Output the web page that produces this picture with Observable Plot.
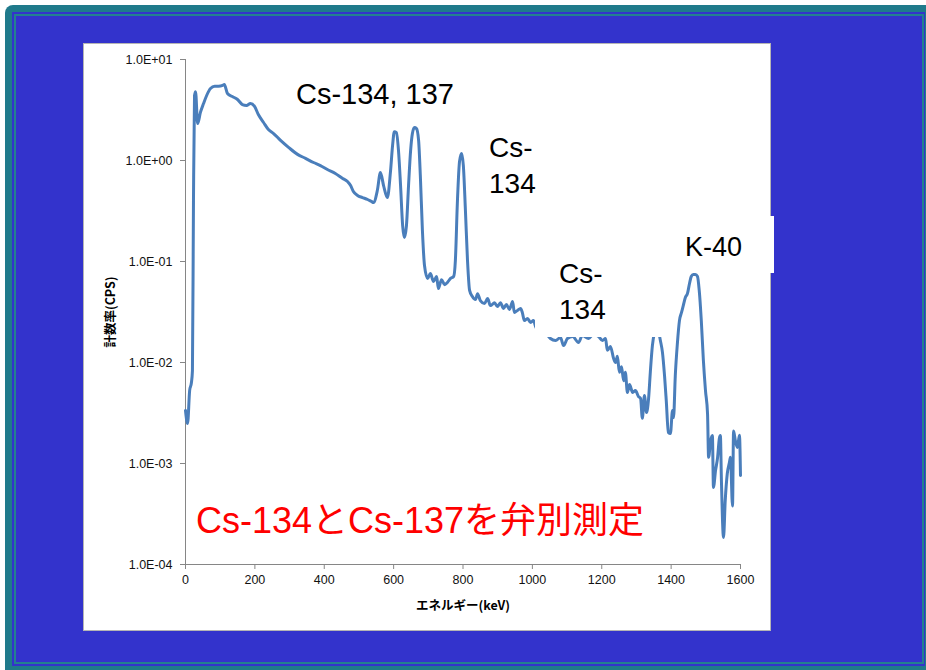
<!DOCTYPE html>
<html>
<head>
<meta charset="utf-8">
<script src="https://cdn.jsdelivr.net/npm/d3@7"></script>
<script src="https://cdn.jsdelivr.net/npm/@observablehq/plot@0.6"></script>
<style>
  html, body { margin: 0; padding: 0; background: #ffffff; width: 926px; height: 670px; overflow: hidden; position: relative; }
  #outer { position: absolute; left: 5px; top: 5px; width: 940px; height: 680px; background: #1f7a8b; border-radius: 8px 0 0 0; }
  #blue { position: absolute; left: 12px; top: 12px; width: 913px; height: 654px; background: #3333cc; }
  #ring { position: absolute; left: 14px; top: 14px; width: 910px; height: 650px; box-sizing: border-box; border: 2px solid #23808f; }
  #panel { position: absolute; left: 83px; top: 43px; width: 688px; height: 588px; box-sizing: border-box; background: #ffffff; border: 1px solid #b5b5b5; }
  #chart { position: absolute; left: 83px; top: 43px; }
  .lbl { position: absolute; font-family: "Liberation Sans", Arial, sans-serif; color: #000; line-height: 36px; white-space: nowrap; }
  .box { position: absolute; background: #ffffff; }
  #red { position: absolute; left: 196px; top: 503px; font-family: "Liberation Sans", "Noto Sans CJK JP", sans-serif; font-size: 36px; line-height: 36px; color: #ff0000; white-space: nowrap; }
</style>
</head>
<body>
<div id="outer"></div>
<div id="blue"></div>
<div id="ring"></div>
<div id="panel"></div>
<div id="chart"></div>
<div class="lbl" style="left:296px; top:76px; font-size:29px;">Cs-134, 137</div>
<div class="lbl" style="left:489px; top:130px; font-size:28px;">Cs-<br>134</div>
<div class="box" style="left:535px; top:253px; width:128px; height:84px;"></div>
<div class="lbl" style="left:559px; top:256px; font-size:28px;">Cs-<br>134</div>
<div class="box" style="left:676px; top:216px; width:98px; height:57px;"></div>
<div class="lbl" style="left:685px; top:229px; font-size:27px;">K-40</div>
<div id="red">Cs-134とCs-137を弁別測定</div>
<script>
// Spectrum: energy (keV) and count rate (CPS)
const energy = [
  0, 6, 12, 17, 20, 23, 26, 29, 35, 43, 52, 61, 72, 84, 95, 107, 112, 121, 135, 150,
  164, 176, 187, 199, 210, 225, 239, 254, 274, 297, 323, 346, 369, 389, 409, 432, 453, 467, 476, 484,
  496, 510, 525, 536, 542, 553, 562, 571, 582, 591, 597, 602, 608, 614, 620, 626, 631, 637, 643, 649,
  654, 660, 666, 672, 677, 683, 689, 698, 706, 715, 724, 729, 738, 747, 755, 764, 773, 778, 784, 790,
  796, 801, 807, 813, 819, 827, 836, 842, 850, 862, 871, 879, 891, 899, 908, 917, 925, 934, 943, 948,
  957, 966, 971, 977, 986, 995, 1003, 1012, 1023, 1038, 1052, 1067, 1081, 1090, 1101, 1116, 1133, 1144, 1162, 1176,
  1191, 1202, 1211, 1216, 1225, 1234, 1240, 1245, 1251, 1257, 1263, 1268, 1274, 1280, 1289, 1297, 1306, 1312, 1317, 1323,
  1329, 1335, 1340, 1346, 1352, 1357, 1363, 1369, 1375, 1381, 1386, 1392, 1398, 1404, 1407, 1412, 1418, 1424, 1430, 1435,
  1441, 1447, 1453, 1458, 1464, 1470, 1476, 1481, 1487, 1493, 1499, 1505, 1508, 1514, 1519, 1522, 1528, 1534, 1539, 1542,
  1545, 1551, 1556, 1562, 1568, 1571, 1577, 1580, 1585, 1591, 1597, 1600
];
const cps = [
  0.00335, 0.00249, 0.0053, 0.0063, 0.0083, 0.40, 4.4, 4.8, 2.32, 2.99, 3.66, 4.4, 5.16, 5.42, 5.42, 5.53, 5.65, 4.6, 4.3, 4.02,
  3.58, 3.51, 3.66, 3.43, 2.85, 2.38, 2.03, 1.85, 1.58, 1.35, 1.15, 1.05, 0.955, 0.89, 0.814, 0.743, 0.663, 0.619, 0.565, 0.493,
  0.45, 0.43, 0.411, 0.393, 0.384, 0.504, 0.76, 0.565, 0.43, 0.78, 1.41, 1.93, 1.89, 1.26, 0.565, 0.227, 0.173, 0.227, 0.565, 1.26,
  1.84, 2.12, 2.07, 1.58, 0.71, 0.203, 0.0913, 0.068, 0.076, 0.0634, 0.071, 0.054, 0.066, 0.059, 0.062, 0.068, 0.071, 0.102, 0.402, 0.977,
  1.17, 0.892, 0.32, 0.102, 0.0517, 0.045, 0.042, 0.048, 0.041, 0.0384, 0.043, 0.0366, 0.039, 0.0358, 0.039, 0.0343, 0.0375, 0.0335, 0.0402, 0.0313,
  0.0328, 0.0343, 0.0313, 0.026, 0.0273, 0.0249, 0.026, 0.0217, 0.0232, 0.0198, 0.0173, 0.0165, 0.0177, 0.0147, 0.0173, 0.0181, 0.0158, 0.0185, 0.0173, 0.019,
  0.0181, 0.0165, 0.0173, 0.0132, 0.0144, 0.011, 0.010, 0.0115, 0.0080, 0.0091, 0.0066, 0.0080, 0.00505, 0.00605, 0.00505, 0.00528, 0.0046, 0.0044, 0.0028, 0.0047,
  0.0032, 0.0044, 0.0080, 0.0147, 0.0198, 0.0217, 0.0207, 0.0165, 0.0126, 0.0074, 0.0042, 0.00203, 0.00198, 0.00335, 0.00285, 0.0074, 0.0154, 0.026, 0.0313, 0.0366,
  0.044, 0.048, 0.0605, 0.071, 0.0743, 0.0743, 0.071, 0.0517, 0.026, 0.0105, 0.0053, 0.0031, 0.00115, 0.00169, 0.00189, 0.00058, 0.00085, 0.00115, 0.00177, 0.00189,
  0.00068, 0.000185, 0.00043, 0.0008, 0.00102, 0.00115, 0.00038, 0.0021, 0.0017, 0.00144, 0.0019, 0.00076
];
const xTicks = [0, 200, 400, 600, 800, 1000, 1200, 1400, 1600];
const yTicks = [1e-4, 1e-3, 1e-2, 1e-1, 1e0, 1e1];
const yTickLabels = ["1.0E-04", "1.0E-03", "1.0E-02", "1.0E-01", "1.0E+00", "1.0E+01"];
const xTitle = "エネルギー(keV)";
const yTitle = "計数率(CPS)";

const points = energy.map((e, i) => ({E: e, cps: cps[i]}));

const chart = Plot.plot({
  width: 688,
  height: 588,
  marginLeft: 102,
  marginTop: 16,
  marginRight: 31,
  marginBottom: 67,
  style: {background: "transparent", fontFamily: "'Liberation Sans', Arial, sans-serif", fontSize: "12.5px", color: "#111"},
  x: {domain: [0, 1600]},
  y: {type: "log", domain: [1e-4, 10]},
  marks: [
    Plot.ruleX([0], {stroke: "#868686"}),
    Plot.ruleY([1e-4], {stroke: "#868686"}),
    Plot.axisX({ticks: xTicks, tickFormat: d => String(d), tickSize: 5, tickPadding: 6, stroke: "#868686", fill: "#111",
      label: xTitle, labelAnchor: "center", labelOffset: 45, labelArrow: "none"}),
    Plot.axisY({ticks: yTicks, tickFormat: (d, i) => yTickLabels[yTicks.indexOf(d)], tickSize: 5, tickPadding: 8, stroke: "#868686", fill: "#111",
      label: yTitle, labelAnchor: "center", labelOffset: 79, labelArrow: "none"}),
    Plot.line(points, {x: "E", y: "cps", stroke: "#4a7ebb", strokeWidth: 3, curve: "monotone-x", strokeLinejoin: "round"})
  ]
});
document.getElementById("chart").appendChild(chart);
d3.select(chart).selectAll('g[aria-label="x-axis label"] text, g[aria-label="y-axis label"] text')
  .attr("font-weight", "bold")
  .attr("font-family", "'Noto Sans CJK JP', sans-serif")
  .attr("font-size", "12.5px")
  .attr("fill", "#000");
</script>
</body>
</html>
